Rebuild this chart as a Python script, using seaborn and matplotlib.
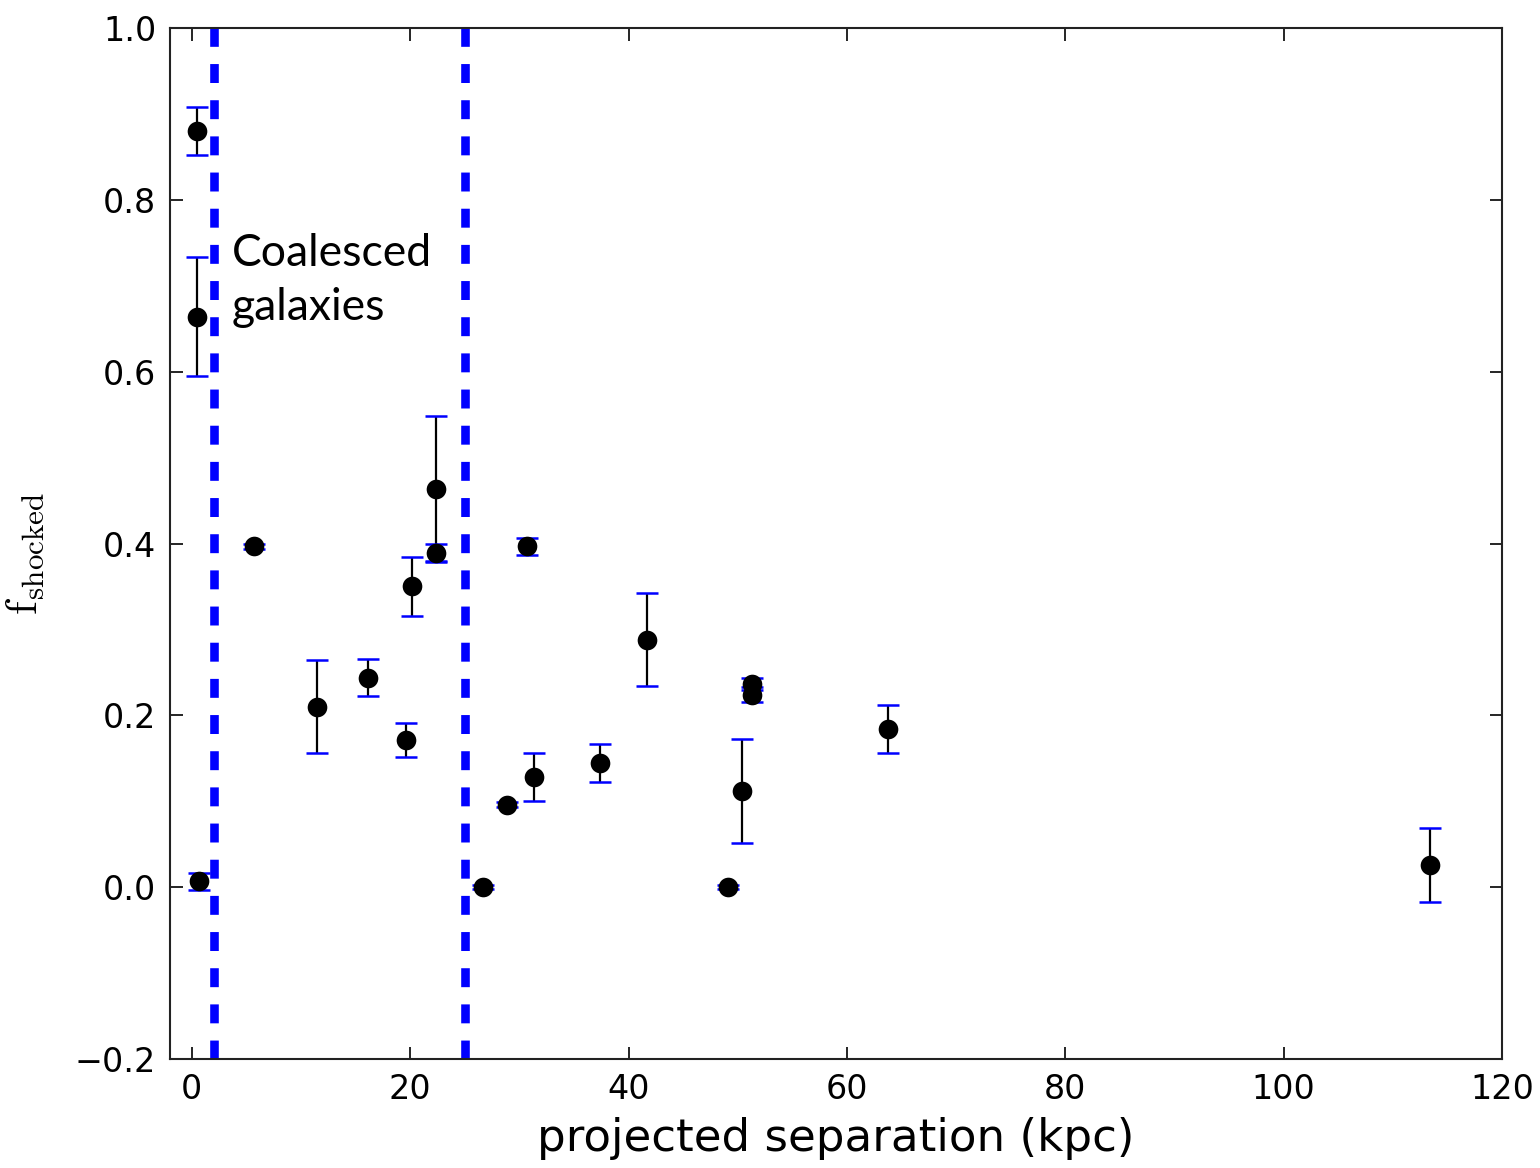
import matplotlib
matplotlib.use("Agg")
import matplotlib.pyplot as plt
import seaborn as sns
import pandas as pd

# Projected separation (kpc), shocked fraction and its uncertainty
separation = [0.5, 0.45, 0.65, 5.66, 11.5, 16.1, 19.6, 20.2, 22.4, 22.4, 26.7,
              28.9, 30.7, 31.3, 37.4, 41.7, 49.1, 50.4, 51.3, 51.3, 63.8, 113.4]
f_shocked = [0.880, 0.664, 0.007, 0.397, 0.210, 0.244, 0.171, 0.350, 0.464, 0.389, 0.000,
             0.096, 0.397, 0.128, 0.145, 0.288, 0.000, 0.112, 0.236, 0.224, 0.184, 0.026]
f_err = [0.028, 0.069, 0.010, 0.003, 0.054, 0.022, 0.020, 0.034, 0.084, 0.010, 0.002,
         0.003, 0.010, 0.028, 0.022, 0.054, 0.002, 0.060, 0.007, 0.009, 0.028, 0.043]

# Boundaries of the coalesced-galaxy regime
boundaries = [2.0, 25.0]

x_ticks = [0, 20, 40, 60, 80, 100, 120]
y_ticks = [-0.2, 0.0, 0.2, 0.4, 0.6, 0.8, 1.0]

df = pd.DataFrame({"sep": separation, "f": f_shocked, "err": f_err})

sns.set_style("ticks")
plt.rcParams.update({
    "font.family": ["DejaVu Sans"],
    "mathtext.fontset": "cm",
    "text.color": "black",
    "axes.labelcolor": "black",
    "xtick.color": "black",
    "ytick.color": "black",
    "xtick.direction": "in",
    "ytick.direction": "in",
    "xtick.top": True,
    "ytick.right": True,
    "xtick.major.size": 9,
    "ytick.major.size": 9,
    "xtick.major.width": 1.2,
    "ytick.major.width": 1.2,
    "axes.linewidth": 1.5,
    "axes.edgecolor": "#222222",
})

fig = plt.figure(figsize=(15.4, 11.68), dpi=100)
ax = fig.add_axes([0.1104, 0.0933, 0.8649, 0.8827])

# Error bars: black stems with blue caps
eb = ax.errorbar(df["sep"], df["f"], yerr=df["err"], fmt="none", ecolor="black",
                 elinewidth=1.6, capsize=8, capthick=1.8, zorder=2)
for cap in eb.lines[1]:
    cap.set_color("blue")
    cap.set_markeredgecolor("blue")
    cap.set_markerfacecolor("blue")

sns.scatterplot(data=df, x="sep", y="f", ax=ax, color="black", s=200,
                edgecolor="black", linewidth=0, zorder=3, legend=False)

for b in boundaries:
    ax.axvline(b, color="blue", lw=6.2, ls=(0, (2.2, 2.0)), zorder=1)

ax.text(3.65, 0.762, "Coalesced\ngalaxies", family=["Lato", "DejaVu Sans"],
        fontsize=32, va="top", ha="left", linespacing=1.42, color="black")

ax.set_xlim(-2, 120)
ax.set_ylim(-0.2, 1.0)
ax.set_xticks(x_ticks)
ax.set_yticks(y_ticks)
ax.set_yticklabels([f"{v:.1f}".replace("-", "\u2212") for v in y_ticks])
ax.tick_params(labelsize=24, pad=10)

ax.set_xlabel("projected separation (kpc)", fontsize=32.5, labelpad=8)
ax.set_ylabel(r"$\mathrm{f_{shocked}}$", fontsize=32, labelpad=8)
ax.yaxis.set_label_coords(-0.092, 0.49)

fig.savefig("out.png", dpi=100)
